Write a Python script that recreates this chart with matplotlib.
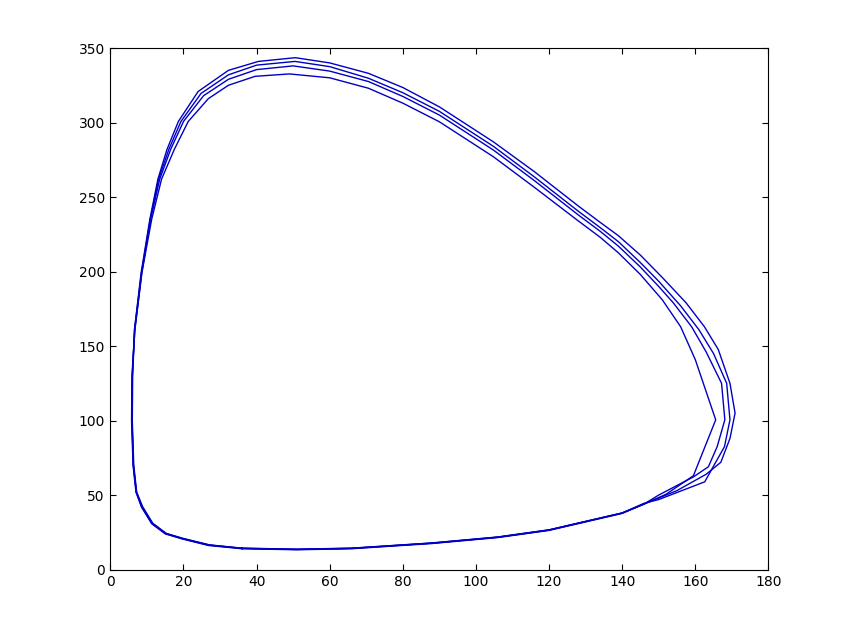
import matplotlib
matplotlib.use("Agg")
import matplotlib.pyplot as plt

# four laps of the prey/predator orbit (counterclockwise)
lap1_x = [36, 51, 66, 88, 106, 120, 140, 146, 152, 159.5, 165.6, 160, 156, 151, 145, 139, 134, 128, 116, 104.8, 90, 80,
          70.6, 60, 49, 39.6, 32.3, 26.8, 21.3, 17.5, 14, 11.3, 8.6, 6.7, 5.9, 5.8, 6.2, 7, 8.5, 11.3, 15, 19.5, 26.8, 36]
lap1_y = [14, 13.3, 14, 17.5, 21.5, 26.3, 37.7, 44, 50.5, 63, 100.5, 141, 163, 181, 198, 212.5, 223, 234, 256.5, 277, 300.5, 313,
          323, 330, 332.6, 331, 325, 316, 300.7, 282, 262, 235, 199, 161, 130, 100, 70, 52, 42, 30.8, 24, 20.7, 16.2, 14]

lap2_x = [36, 51, 66, 88, 106, 120, 140, 146, 150, 159.5, 163.6, 166, 168.1, 167.2, 163, 159, 154, 150, 145, 139, 134, 128,
          116, 104.8, 90, 80, 70.6, 60, 50, 40, 32.3, 25.5, 20, 16.5, 13.5, 11, 8.6, 6.7, 6.0, 5.9, 6.3, 7.1, 8.6, 11.4,
          15.1, 19.6, 26.9, 36]
lap2_y = [14.2, 13.5, 14.2, 17.7, 21.7, 26.5, 37.9, 44, 50, 62.2, 69, 82.5, 100.5, 125, 146, 163, 179, 190, 203, 217, 227, 238,
          261, 281.5, 305, 317.5, 327.5, 334.5, 338, 335.5, 329, 318, 300.7, 282, 262, 235, 199, 161, 130, 100, 70, 52, 42, 30.9,
          24.1, 20.8, 16.4, 14.2]

lap3_x = [36, 51, 66, 88, 106, 120, 140, 146, 150, 162.6, 168, 169.5, 168.6, 165, 161, 156, 150, 145, 139, 134, 128,
          116, 104.8, 90, 80, 70.6, 60, 50.5, 40, 32.3, 24.8, 19.3, 16, 13.2, 10.9, 8.5, 6.6, 6.0, 5.9, 6.3, 7.1, 8.7, 11.5,
          15.2, 19.7, 27, 36]
lap3_y = [14.3, 13.6, 14.3, 17.8, 21.8, 26.6, 38, 44.5, 47, 58.9, 82.5, 100.5, 125, 145, 161, 177, 193.5, 206, 220, 229.5, 240.5,
          263.5, 284, 307.5, 320, 329.7, 337.5, 341, 338.5, 332, 319.5, 300.7, 282, 262, 235, 199, 161, 130, 100, 70, 52, 42.2,
          31, 24.2, 20.9, 16.5, 14.3]

lap4_x = [36, 51, 66, 88, 106, 120, 140, 146, 155, 163, 167, 169.5, 170.9, 169.5, 166.3, 162.5, 157.5, 151, 145, 139, 134,
          128, 116, 104.8, 90, 80, 70.6, 60, 50.6, 40.5, 32.3, 24, 18.6, 15.5, 13, 10.8, 8.4, 6.6, 6.1, 6.0, 6.4, 7.2, 8.8,
          11.6, 15.3, 19.8, 27.1, 36]
lap4_y = [14.4, 13.7, 14.4, 17.9, 21.9, 26.7, 38, 44, 53, 64, 72, 88, 105, 125, 147.7, 163, 179, 196, 211, 224, 233,
          244, 267, 287, 310.5, 323.5, 333, 340, 343.5, 341, 335, 320.8, 300.7, 282, 262, 235, 199, 161, 130, 100, 70, 52, 42.3,
          31.1, 24.3, 21, 16.6, 14.4]

x_ticks = [0, 20, 40, 60, 80, 100, 120, 140, 160, 180]
y_ticks = [0, 50, 100, 150, 200, 250, 300, 350]

fig = plt.figure(figsize=(8.49, 6.4), dpi=100)
ax = fig.add_axes([0.13, 0.11, 0.775, 0.815])

for xs, ys in [(lap1_x, lap1_y), (lap2_x, lap2_y), (lap3_x, lap3_y), (lap4_x, lap4_y)]:
    ax.plot(xs, ys, color='#0000c4', lw=1.0)

ax.set_xlim(0, 180)
ax.set_ylim(0, 350)
ax.set_xticks(x_ticks)
ax.set_yticks(y_ticks)
ax.tick_params(direction='in', top=True, right=True, length=4.5, width=0.8, labelsize=10, pad=4)
for s in ax.spines.values():
    s.set_linewidth(0.8)

fig.savefig("out.png", dpi=100)
